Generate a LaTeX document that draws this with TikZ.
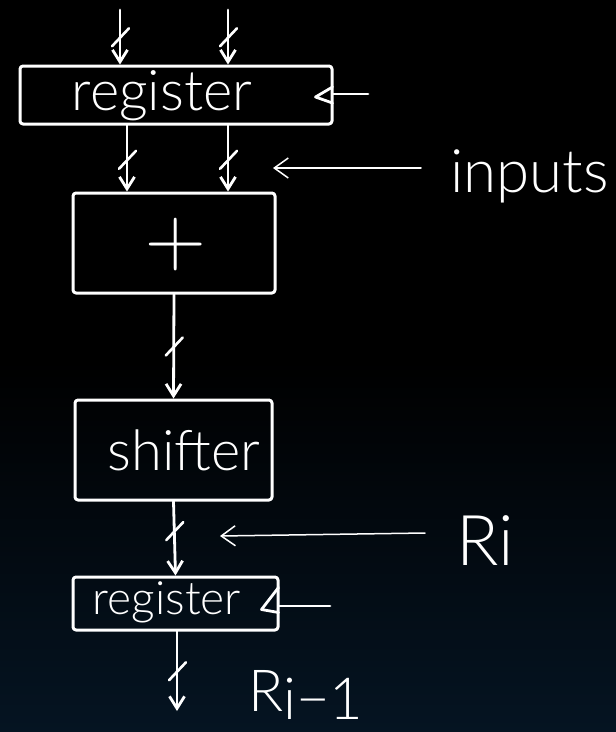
\documentclass[tikz,border=0pt]{standalone}
\usepackage{fontspec}
\usepackage{graphicx}
\newfontfamily\hand{Lato Light}
\usetikzlibrary{arrows.meta,calc}
\definecolor{deepnavy}{RGB}{5,20,34}
\tikzset{
  ink/.style={draw=white,line width=3pt,line cap=round,line join=round},
  blk/.style={ink,rectangle,rounded corners=3pt,inner sep=0pt},
  lbl/.style={text=white,inner sep=0pt,font=\hand},
  bus/.style={ink,line width=2.8pt,-{Straight Barb[length=12pt,width=15pt,line width=2.8pt]}},
  pointer/.style={draw=white,line width=1.5pt,line cap=round,-{Straight Barb[length=14pt,width=20pt,line width=1.5pt]}},
  clockline/.style={ink,line width=2.8pt},
  slash/.pic={\draw[draw=white,line width=2.6pt,line cap=round,-] (-8,9) -- (9,-9);}
}
\begin{document}
\begin{tikzpicture}[x=1pt,y=-1pt]
  % background: black fading to deep navy towards the bottom
  \fill[black] (0,0) rectangle (616,732);
  \shade[top color=black,bottom color=deepnavy] (0,360) rectangle (616,732);
  \useasboundingbox (0,0) rectangle (616,732);

  % blocks
  \node[blk,minimum width=312pt,minimum height=58pt] (reg1) at (176,95) {};
  \node[blk,minimum width=202pt,minimum height=100pt] (add) at (174,243) {};
  \node[blk,minimum width=197pt,minimum height=100pt] (shift) at (173.5,450) {};
  \node[blk,minimum width=205pt,minimum height=53pt] (reg2) at (175.5,603.5) {};

  % block texts
  \node[lbl,anchor=base,font=\hand\fontsize{56}{56}\selectfont] (t1) at (162,110) {register};
  \node[lbl,font=\normalfont\fontsize{84}{84}\selectfont] (tplus) at (176,245) {+};
  \node[lbl,anchor=base,font=\hand\fontsize{56}{56}\selectfont] (t3) at (184,470) {shifter};
  \node[lbl,anchor=base,font=\hand\fontsize{46}{46}\selectfont] (t4) at (167,614) {register};

  % clock inputs
  \draw[clockline] ($(reg1.east)+(-1,-8)$) -- ($(reg1.east)+(-18,2)$) -- ($(reg1.east)+(-1,8)$);
  \coordinate (clk1) at (368,94);
  \draw[clockline] (reg1.east |- clk1) -- (clk1);
  \draw[clockline] ($(reg2.east)+(-1,-16)$) -- ($(reg2.east)+(-18,6)$) -- ($(reg2.east)+(-1,9)$);
  \coordinate (clk2) at (330,606);
  \draw[clockline] (reg2.east |- clk2) -- (clk2);

  % data paths
  \coordinate (inA) at (120,10);
  \coordinate (inB) at (228,10);
  \coordinate (colA) at (127,0);
  \coordinate (colB) at (228,0);
  \coordinate (out) at (177,711);
  \draw[bus] (inA) -- pic[pos=0.5]{slash} (inA |- reg1.north);
  \draw[bus] (inB) -- pic[pos=0.5]{slash} (inB |- reg1.north);
  \draw[bus] (colA |- reg1.south) -- pic[pos=0.52]{slash} (colA |- add.north);
  \draw[bus] (colB |- reg1.south) -- pic[pos=0.52]{slash} (colB |- add.north);
  \draw[bus] (add.south) -- pic[pos=0.5]{slash} (shift.north);
  \draw[bus] (shift.south) -- pic[pos=0.4]{slash} (reg2.north);
  \draw[bus] (reg2.south -| out) -- pic[pos=0.5]{slash} (out);

  % annotations
  \coordinate (pinA) at (421,168);
  \coordinate (pinB) at (273,168);
  \draw[pointer] (pinA) -- (pinB);
  \node[lbl,anchor=base west,font=\hand\fontsize{60}{60}\selectfont] (inputs) at (450,192) {inputs};
  \coordinate (pRa) at (425,533);
  \coordinate (pRb) at (220,536);
  \draw[pointer] (pRa) -- (pRb);
  \node[lbl,anchor=base west,font=\hand\fontsize{70}{70}\selectfont] (Ri) at (456,565) {Ri};
  \node[lbl,anchor=base west,font=\hand\fontsize{58}{58}\selectfont] (Rim) at (248,711) {R\raisebox{-8pt}{i−1}};
\end{tikzpicture}
\end{document}
